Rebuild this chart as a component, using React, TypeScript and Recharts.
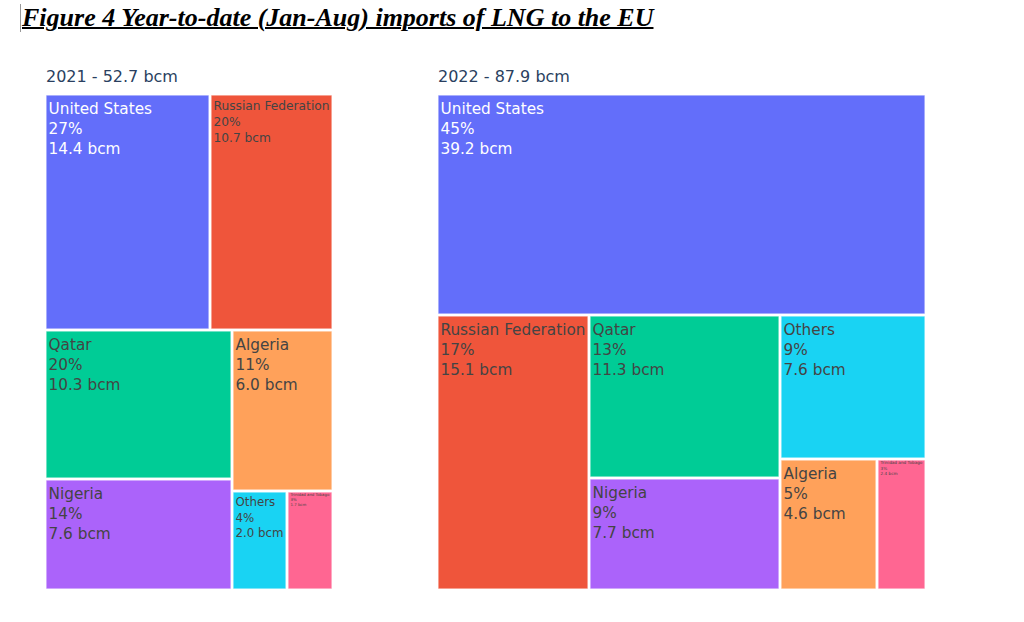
import React from 'react';
import { Treemap } from 'recharts';

// ---- Data ----
const names2021 = ['United States', 'Russian Federation', 'Qatar', 'Nigeria', 'Algeria', 'Others', 'Trinidad and Tobago'];
const values2021 = [14.4, 10.7, 10.3, 7.6, 6.0, 2.0, 1.7];
const pct2021 = ['27%', '20%', '20%', '14%', '11%', '4%', '3%'];

const names2022 = ['United States', 'Russian Federation', 'Qatar', 'Nigeria', 'Others', 'Algeria', 'Trinidad and Tobago'];
const values2022 = [39.2, 15.1, 11.3, 7.7, 7.6, 4.6, 2.4];
const pct2022 = ['45%', '17%', '13%', '9%', '9%', '5%', '3%'];

const panelTitles = ['2021 - 52.7 bcm', '2022 - 87.9 bcm'];
const figureTitle = 'Figure 4 Year-to-date (Jan-Aug) imports of LNG to the EU';

// ---- Styles ----
const FILL: Record<string, string> = {
  'United States': '#636efa',
  'Russian Federation': '#EF553B',
  Qatar: '#00cc96',
  Nigeria: '#ab63fa',
  Algeria: '#FFA15A',
  Others: '#19d3f3',
  'Trinidad and Tobago': '#FF6692',
};
const TEXT_FILL: Record<string, string> = {
  'United States': '#ffffff',
};
const FONT = '"DejaVu Sans", Verdana, sans-serif';

const build = (names: string[], values: number[], pcts: string[]) =>
  names.map((name, i) => ({ name, value: values[i], pct: pcts[i] }));

const data2021 = build(names2021, values2021, pct2021);
const data2022 = build(names2022, values2022, pct2022);

let ctx: CanvasRenderingContext2D | null = null;
function measure(t: string, fs: number): number {
  if (!ctx && typeof document !== 'undefined') {
    const c = document.createElement('canvas');
    ctx = c.getContext('2d');
  }
  if (!ctx) return t.length * fs * 0.6;
  ctx.font = `${fs}px "DejaVu Sans"`;
  return ctx.measureText(t).width;
}

function Cell(props: any) {
  const { x, y, width, height, depth, name, value, pct } = props;
  if (depth !== 1 || width == null) return null;
  const lines = [String(name), String(pct), `${Number(value).toFixed(1)} bcm`];
  const base = 15.3;
  const maxW = Math.max(...lines.map((l) => measure(l, base)));
  const fs = Math.min(base, (base * (width - 7)) / maxW, (height - 4) / (lines.length * 1.35));
  const lh = fs * 1.31;
  const tx = x + 3.5;
  const ty = y + fs * 1.3;
  return (
    <g>
      <rect
        x={x + 1.25}
        y={y + 1.25}
        width={Math.max(0, width - 2.5)}
        height={Math.max(0, height - 2.5)}
        fill={FILL[name] || '#ccc'}
        stroke="rgba(255,255,255,0.35)"
        strokeWidth={1}
      />
      <text x={tx} y={ty} fontFamily={FONT} fontSize={fs} fill={TEXT_FILL[name] || '#444'}>
        {lines.map((l, i) => (
          <tspan key={i} x={tx} y={ty + i * lh}>
            {l}
          </tspan>
        ))}
      </text>
    </g>
  );
}

export default function App() {
  return (
    <div
      style={{
        position: 'absolute',
        left: 0,
        top: 0,
        width: 1024,
        height: 622,
        background: '#ffffff',
        overflow: 'hidden',
      }}
    >
      <div
        style={{
          position: 'absolute',
          left: 20,
          top: 4,
          borderLeft: '1px solid #999',
          paddingLeft: 1,
          fontFamily: '"Liberation Serif", "Times New Roman", serif',
          fontWeight: 'bold',
          fontStyle: 'italic',
          fontSize: 26,
          lineHeight: '28px',
          color: '#000',
          textDecoration: 'underline',
          textDecorationThickness: '2px',
          whiteSpace: 'nowrap',
        }}
      >
        {figureTitle}
      </div>

      <svg style={{ position: 'absolute', left: 0, top: 0 }} width={1024} height={92}>
        <text x={46} y={82} fontFamily={FONT} fontSize={16} fill="#2a3f5f">
          {panelTitles[0]}
        </text>
        <text x={438} y={82} fontFamily={FONT} fontSize={16} fill="#2a3f5f">
          {panelTitles[1]}
        </text>
      </svg>

      <div style={{ position: 'absolute', left: 45, top: 94 }}>
        <Treemap
          width={288}
          height={496}
          data={data2021}
          dataKey="value"
          nameKey="name"
          aspectRatio={1}
          isAnimationActive={false}
          content={<Cell />}
        />
      </div>

      <div style={{ position: 'absolute', left: 437, top: 94 }}>
        <Treemap
          width={489}
          height={496}
          data={data2022}
          dataKey="value"
          nameKey="name"
          aspectRatio={1}
          isAnimationActive={false}
          content={<Cell />}
        />
      </div>
    </div>
  );
}
